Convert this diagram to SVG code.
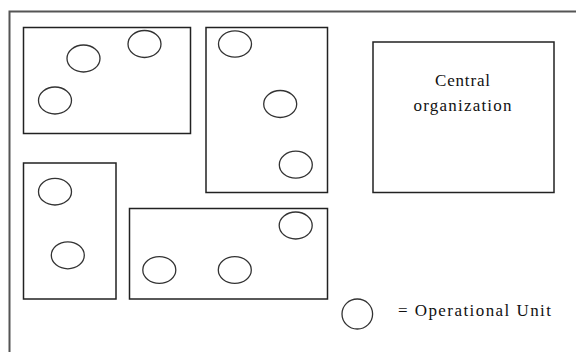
<svg xmlns="http://www.w3.org/2000/svg" width="576" height="352" viewBox="0 0 576 352">
<style>
.box{fill:none;stroke:#222;stroke-width:1.5}
.unit{fill:none;stroke:#333;stroke-width:1.3}
.frame{fill:none;stroke:#555;stroke-width:2}
.lbl{font-family:"Liberation Serif","Times New Roman",serif;font-size:17px;fill:#111}
</style>
<rect width="576" height="352" fill="#fff"/>
<g id="frame"><path class="frame" d="M9.5 352 V11.5 H576"/></g>
<g id="group1">
<rect class="box" x="23.5" y="27.5" width="167" height="106"/>
<ellipse class="unit" cx="83.5" cy="58.5" rx="16.5" ry="13.5"/>
<ellipse class="unit" cx="144.5" cy="44" rx="16.5" ry="13.5"/>
<ellipse class="unit" cx="55" cy="100.5" rx="16.5" ry="13.5"/>
</g>
<g id="group2">
<rect class="box" x="206" y="27.5" width="121.5" height="165"/>
<ellipse class="unit" cx="235" cy="44" rx="16.5" ry="13.2"/>
<ellipse class="unit" cx="280.2" cy="104" rx="16.5" ry="13.5"/>
<ellipse class="unit" cx="295.8" cy="164.7" rx="16.5" ry="13.5"/>
</g>
<g id="central">
<rect class="box" x="373" y="42" width="181" height="150.5"/>
<text class="lbl" x="462.5" y="86" text-anchor="middle" textLength="55" lengthAdjust="spacing">Central</text>
<text class="lbl" x="462.5" y="110.5" text-anchor="middle" textLength="98" lengthAdjust="spacing">organization</text>
</g>
<g id="group3">
<rect class="box" x="23.5" y="163" width="92.5" height="136"/>
<ellipse class="unit" cx="55" cy="191.7" rx="16.5" ry="13.3"/>
<ellipse class="unit" cx="67.8" cy="255.3" rx="16.5" ry="13.5"/>
</g>
<g id="group4">
<rect class="box" x="129.5" y="208.5" width="198" height="90.5"/>
<ellipse class="unit" cx="159.3" cy="270" rx="16.5" ry="13.3"/>
<ellipse class="unit" cx="234.8" cy="270" rx="16.5" ry="13.3"/>
<ellipse class="unit" cx="295.7" cy="225.5" rx="16.5" ry="13.5"/>
</g>
<g id="legend">
<ellipse class="unit" cx="357.3" cy="314" rx="15.3" ry="15"/>
<text class="lbl" x="398" y="316" textLength="153" lengthAdjust="spacing">= Operational Unit</text>
</g>
</svg>
